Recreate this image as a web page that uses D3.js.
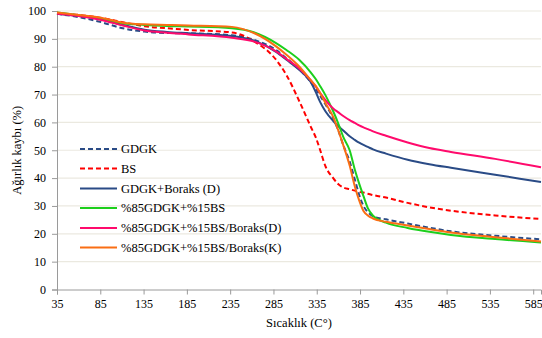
<!DOCTYPE html>
<html>
<head>
<meta charset="utf-8">
<script src="https://cdn.jsdelivr.net/npm/d3@7"></script>
<style>
  body { margin: 0; background: #fff; }
</style>
</head>
<body>
<div id="chart"></div>
<script>
// temperature grid (°C) the values were read at
const temps = [35, 60, 86, 111, 136, 162, 187, 237, 263, 288, 300, 315, 328, 334, 339, 345, 354, 360, 366, 373, 379, 384, 389, 394, 400, 415, 440, 465, 490, 541, 594];

// weight remaining (%) per sample
const gdgk        = [99, 97.8, 96, 93.8, 92.6, 92.1, 92, 91.3, 89.6, 86, 83, 79, 74.5, 72, 69.5, 66.5, 61.5, 57, 51.5, 46, 39.5, 34, 30, 27.8, 26.3, 25.2, 23.7, 22.2, 20.9, 19.3, 18];
const bs          = [99, 98.6, 97.5, 96, 94.5, 93.8, 93.2, 92.3, 89, 82.5, 77, 67.5, 58.5, 54.5, 50, 44.3, 40, 37.8, 36.6, 36, 35.5, 35.1, 34.8, 34.4, 33.9, 33, 31.1, 29.5, 28.3, 26.6, 25.3];
const gdgkBoraksD = [99, 98.2, 97, 95, 93.3, 92.5, 92, 91, 89.3, 85.3, 82.5, 78.8, 74.5, 70.8, 67.3, 64, 60.5, 58.6, 57, 55, 53.7, 52.7, 51.9, 51.2, 50.3, 48.8, 46.6, 45, 43.7, 41.2, 38.6];
const mix         = [99.5, 98.5, 97.2, 95.6, 95, 94.6, 94.4, 93.8, 92.3, 88.5, 86, 82.4, 78, 75.5, 73, 69.8, 64, 59.5, 54.5, 50, 43, 38, 33.5, 29.2, 26.5, 24, 22.1, 20.7, 19.6, 18.1, 16.9];
const mixBoraksD  = [99, 98.2, 96.8, 94.8, 93, 92.2, 91.6, 90.4, 89, 85.5, 82.8, 79.3, 75.2, 72.8, 70.5, 68, 65, 63.6, 62.2, 60.8, 59.8, 58.9, 58.2, 57.6, 56.8, 55.2, 52.8, 50.8, 49.4, 46.9, 43.9];
const mixBoraksK  = [99.5, 98.6, 97.6, 95.8, 95.2, 95, 94.8, 94.3, 92, 87.3, 84.3, 80, 75.2, 73, 70.5, 67, 62, 57, 51.5, 44.5, 37, 32, 28.2, 26.6, 25.5, 24.3, 23, 21.7, 20.5, 18.8, 17.2];

const seriesNames = ["GDGK", "BS", "GDGK+Boraks (D)", "%85GDGK+%15BS", "%85GDGK+%15BS/Boraks(D)", "%85GDGK+%15BS/Boraks(K)"];
const xTicks = [35, 85, 135, 185, 235, 285, 335, 385, 435, 485, 535, 585];
const yTicks = [0, 10, 20, 30, 40, 50, 60, 70, 80, 90, 100];

const series = [
  { name: seriesNames[0], values: gdgk,        color: "#2a4b86", dash: "5,3" },
  { name: seriesNames[1], values: bs,          color: "#ff0000", dash: "5,3" },
  { name: seriesNames[2], values: gdgkBoraksD, color: "#2a4b86", dash: null },
  { name: seriesNames[3], values: mix,         color: "#1ccf1c", dash: null },
  { name: seriesNames[4], values: mixBoraksD,  color: "#ff0a6c", dash: null },
  { name: seriesNames[5], values: mixBoraksK,  color: "#fa6e14", dash: null }
];

const FONT = "'Liberation Serif', 'Times New Roman', serif";
const width = 542, height = 338;
const margin = { top: 11, right: 1, bottom: 48.5, left: 57 };

const svg = d3.select("#chart").append("svg")
  .attr("width", width)
  .attr("height", height)
  .style("font-family", FONT);

const x = d3.scaleLinear().domain([35, 594]).range([margin.left, width - margin.right]);
const y = d3.scaleLinear().domain([0, 100]).range([height - margin.bottom, margin.top]);

// horizontal gridlines
svg.append("g")
  .selectAll("line")
  .data(yTicks.filter(d => d > 0))
  .enter().append("line")
  .attr("x1", x.range()[0])
  .attr("x2", x.range()[1])
  .attr("y1", d => y(d))
  .attr("y2", d => y(d))
  .style("stroke", "#ebe9e0")
  .style("stroke-width", 1.2);

// axes
const yAxis = svg.append("g")
  .attr("transform", `translate(${margin.left},0)`)
  .call(d3.axisLeft(y).tickValues(yTicks).tickSize(5).tickPadding(6));

const xAxis = svg.append("g")
  .attr("transform", `translate(0,${y(0)})`)
  .call(d3.axisBottom(x).tickValues(xTicks).tickSize(5).tickPadding(5));

[xAxis, yAxis].forEach(a => {
  a.select(".domain").style("stroke", "#9a9a9a");
  a.selectAll(".tick line").style("stroke", "#9a9a9a");
  a.selectAll(".tick text").style("font-family", FONT).style("font-size", "12px");
});

// curves
const line = d3.line()
  .x((d, i) => x(temps[i]))
  .y(d => y(d))
  .curve(d3.curveMonotoneX);

svg.append("g")
  .selectAll("path")
  .data(series)
  .enter().append("path")
  .attr("d", d => line(d.values))
  .style("fill", "none")
  .style("stroke", d => d.color)
  .style("stroke-width", 2)
  .style("stroke-dasharray", d => d.dash);

// legend
const legendY = [149, 168.5, 188.5, 208, 228, 247.5];
const legend = svg.append("g")
  .selectAll("g")
  .data(series)
  .enter().append("g")
  .attr("transform", (d, i) => `translate(80,${legendY[i]})`);

legend.append("line")
  .attr("x1", 0)
  .attr("x2", 37)
  .style("stroke", d => d.color)
  .style("stroke-width", 2)
  .style("stroke-dasharray", d => d.dash);

legend.append("text")
  .attr("x", 41)
  .attr("dy", "0.33em")
  .style("font-size", "12.5px")
  .text(d => d.name);

// axis titles
svg.append("text")
  .attr("x", (x.range()[0] + x.range()[1]) / 2)
  .attr("y", 327)
  .attr("text-anchor", "middle")
  .style("font-size", "12.5px")
  .text("Sıcaklık (C°)");

svg.append("text")
  .attr("transform", `translate(21,${(y(0) + y(100)) / 2}) rotate(-90)`)
  .attr("text-anchor", "middle")
  .style("font-size", "12.5px")
  .text("Ağırlık kaybı (%)");
</script>
</body>
</html>
